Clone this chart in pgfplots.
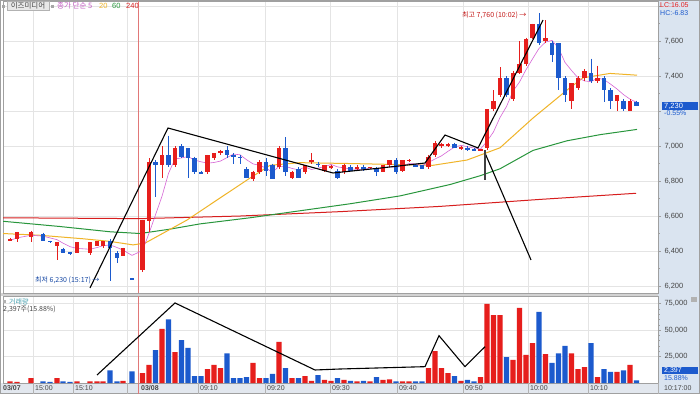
\documentclass[border=0pt]{standalone}
\usepackage{pgfplots}
\pgfplotsset{compat=1.18}
\usepackage{pgfplotstable}
\usepackage{fontspec}
\setmainfont{Liberation Sans}
\newfontfamily\kr{Noto Sans CJK KR}
\definecolor{cred}{RGB}{230,30,28}
\definecolor{cblue}{RGB}{28,90,205}
\definecolor{ma5}{RGB}{214,100,214}
\definecolor{ma20}{RGB}{240,180,40}
\definecolor{ma60}{RGB}{40,150,60}
\definecolor{ma240}{RGB}{215,30,30}
\definecolor{gridc}{RGB}{228,228,228}
\definecolor{panel}{RGB}{218,228,240}
\definecolor{timebar}{RGB}{226,231,238}
\definecolor{sepred}{RGB}{225,120,120}
\definecolor{txtgray}{RGB}{70,70,70}
\definecolor{framec}{RGB}{160,160,160}
\definecolor{volcyan}{RGB}{70,160,175}

\pgfplotstableread{
x o h l c v
10 6460 6475 6455 6470 1500
17 6470 6510 6450 6510 1000
31 6480 6515 6450 6510 4700
57 6430 6450 6350 6450 4700
77 6390 6450 6390 6450 1500
90 6390 6450 6380 6450 1500
97 6430 6460 6430 6460 1500
103 6430 6460 6420 6460 1500
123 6370 6420 6370 6420 2000
142.5 6290 6580 6280 6580 9400
149 6570 6930 6510 6910 17000
162 6890 7000 6820 6950 51000
175 6890 7000 6880 6990 29000
207.5 6850 6950 6840 6950 13000
214 6930 6960 6920 6960 17000
220.5 6960 6980 6950 6970 14000
253 6810 6860 6800 6850 19000
259.5 6850 6920 6840 6910 4700
279 6880 7000 6870 6990 38700
292 6820 6860 6810 6850 4700
305 6850 6890 6840 6890 6600
311.5 6910 6960 6900 6920 2000
324.5 6860 6890 6850 6890 3000
331 6875 6890 6870 6885 2000
344 6850 6900 6840 6890 3000
357 6870 6890 6860 6880 1500
370 6875 6880 6870 6882 1500
383 6850 6890 6850 6890 3000
389.5 6890 6920 6880 6920 3500
402.5 6860 6920 6850 6920 1500
409 6915 6925 6910 6922 1500
428.5 6880 6950 6870 6940 14000
435 6950 7030 6940 7020 30000
441.5 7000 7020 6990 7010 14000
448 7000 7020 6995 7010 9400
461 6985 7000 6980 6992 2000
480.5 6975 6985 6970 6982 5600
487 6990 7210 6980 7210 74500
493.5 7210 7320 7200 7260 64000
500 7290 7450 7280 7390 64000
513 7270 7430 7260 7420 21700
519.5 7420 7600 7410 7470 70700
526 7470 7620 7460 7610 26400
532.5 7620 7700 7610 7700 37700
545.5 7600 7720 7590 7620 27300
571.5 7260 7360 7210 7360 28000
578 7330 7400 7320 7390 13000
584.5 7390 7440 7370 7430 15000
597.5 7370 7460 7360 7390 5600
617 7260 7290 7200 7290 10400
630 7200 7270 7200 7260 17000
}\up

\pgfplotstableread{
x o h l c v
43 6500 6505 6460 6460 1500
50 6460 6460 6445 6450 1000
63 6410 6420 6390 6390 1500
70 6395 6395 6380 6385 1000
110 6460 6470 6230 6420 12000
117 6390 6400 6330 6360 1500
132 6245 6245 6235 6238 11000
155.5 6910 6920 6710 6890 31000
168.5 6950 7060 6880 6890 60000
181.5 7000 7010 6930 6940 40500
188 6990 6990 6820 6930 33000
194.5 6930 6940 6840 6850 6600
201 6850 6860 6840 6840 6600
227 6980 7000 6930 6950 28000
233.5 6950 6960 6900 6940 4700
240 6940 6950 6900 6930 4700
246.5 6870 6880 6820 6820 5600
266 6910 6930 6830 6860 4700
272.5 6890 6900 6810 6810 8500
285.5 6990 7050 6830 6850 14000
298.5 6870 6880 6820 6820 4700
318 6900 6910 6880 6890 7500
337.5 6860 6870 6810 6820 4700
350.5 6880 6890 6860 6860 2000
363.5 6880 6890 6860 6870 2000
376.5 6870 6880 6830 6850 5600
396 6920 6930 6840 6850 1500
415.5 6890 6900 6880 6880 1500
422 6890 6890 6870 6870 1500
454.5 7010 7020 6990 6990 6600
467.5 6990 7000 6970 6980 3000
474 6985 6990 6970 6975 1500
506.5 7390 7400 7280 7290 24500
539 7700 7760 7580 7590 67000
552 7590 7600 7480 7520 18900
558.5 7590 7590 7320 7390 28000
565 7390 7400 7250 7290 34900
591 7420 7500 7360 7370 37700
604 7390 7400 7250 7320 13000
610.5 7320 7330 7210 7260 10400
623.5 7260 7270 7200 7210 12000
636.5 7250 7260 7230 7230 2397
}\dn

\begin{document}
\begin{tikzpicture}
\fill[white] (0pt,0pt) rectangle (700pt,394pt);
\fill[panel] (658pt,0pt) rectangle (700pt,394pt);
\fill[timebar] (0pt,0pt) rectangle (658pt,11pt);
\fill[gray!35] (0pt,98pt) rectangle (658pt,101pt);

\begin{axis}[at={(3pt,101pt)}, anchor=south west, width=655pt, height=292pt, scale only axis,
  xmin=3, xmax=658, ymin=6160, ymax=7829,
  xtick={33,73,127,198,265,330,397,463,528,588}, xticklabels={}, xmajorgrids,
  ytick={6200,6400,...,7800},
  yticklabels={{6,200},{6,400},{6,600},{6,800},{7,000},{},{7,400},{7,600},{}},
  ymajorgrids, grid style={gridc, line width=0.6pt},
  ytick pos=right, yticklabel pos=right, tick align=outside,
  major tick length=3pt, minor y tick num=1, minor tick length=1.5pt,
  xtick style={draw=none}, ytick style={framec},
  axis line style={framec},
  yticklabel style={font=\fontsize{7.5}{8}\selectfont, text=txtgray, xshift=0pt},
  scaled y ticks=false]
\addplot[sepred, line width=0.6pt] coordinates {(138,6160)(138,7829)};
\addplot[ma240, line width=1pt] coordinates {(3,6590)(140,6585)(240,6600)(340,6625)(440,6655)(540,6695)(636,6730)};
\addplot[ma60, line width=1pt] coordinates {(3,6570)(60,6540)(110,6510)(140,6500)(170,6525)(200,6555)(250,6590)(300,6630)(350,6670)(400,6715)(450,6780)(480,6830)(500,6870)(533,6975)(567,7030)(600,7065)(637,7095)};
\addplot[ma20, line width=1pt] coordinates {(3,6500)(40,6490)(83,6470)(110,6455)(133,6435)(145,6445)(187,6577)(220,6703)(250,6817)(270,6890)(300,6905)(350,6900)(433,6890)(467,6920)(500,6990)(533,7160)(567,7320)(583,7390)(610,7415)(637,7405)};
\addplot[ma5, line width=0.6pt] coordinates {(10,6460)(17,6475)(31,6490)(43,6485)(50,6475)(57,6465)(63,6445)(70,6425)(77,6415)(90,6410)(97,6420)(103,6430)(110,6435)(117,6420)(123,6405)(132,6375)
(142.5,6403)(149,6501)(155.5,6607)(162,6713)(168.5,6844)(175,6926)(181.5,6932)(188,6940)(194.5,6920)(201,6910)(207.5,6902)(214,6906)(220.5,6914)(227,6934)(233.5,6954)(240,6950)(246.5,6922)(253,6898)(259.5,6890)(266,6874)(272.5,6850)(279,6884)(285.5,6884)(292,6872)(298.5,6864)(305,6880)(311.5,6866)(318,6874)(324.5,6882)(331,6895)(337.5,6881)(344,6875)(350.5,6869)(357,6867)(363.5,6864)(370,6876)(376.5,6868)(383,6874)(389.5,6882)(396,6878)(402.5,6886)(409,6900)(415.5,6898)(422,6888)(428.5,6906)(435,6926)(441.5,6944)(448,6970)(454.5,6994)(461,7004)(467.5,6996)(474,6989)(480.5,6983)(487,7027)(493.5,7081)(500,7163)(506.5,7226)(513,7314)(519.5,7366)(526,7436)(532.5,7498)(539,7558)(545.5,7594)(552,7604)(558.5,7560)(565,7478)(571.5,7432)(578,7390)(584.5,7372)(591,7368)(597.5,7388)(604,7380)(610.5,7354)(617,7326)(623.5,7294)(630,7268)(636.5,7250)};
% wicks
\addplot[draw=none, mark=none, forget plot, error bars/.cd, y dir=minus, y explicit, error mark=none, error bar style={draw=cred, line width=1pt}]
  table[x=x, y=h, y error expr={\thisrow{h}-\thisrow{l}}] {\up};
\addplot[draw=none, mark=none, forget plot, error bars/.cd, y dir=minus, y explicit, error mark=none, error bar style={draw=cblue, line width=1pt}]
  table[x=x, y=h, y error expr={\thisrow{h}-\thisrow{l}}] {\dn};
% bodies
\addplot[draw=none, mark=none, forget plot, error bars/.cd, y dir=both, y explicit, error mark=none, error bar style={draw=cred, line width=4.8pt}]
  table[x=x, y expr={0.5*(\thisrow{o}+\thisrow{c})}, y error expr={0.5*abs(\thisrow{c}-\thisrow{o})}] {\up};
\addplot[draw=none, mark=none, forget plot, error bars/.cd, y dir=both, y explicit, error mark=none, error bar style={draw=cblue, line width=4.8pt}]
  table[x=x, y expr={0.5*(\thisrow{o}+\thisrow{c})}, y error expr={0.5*abs(\thisrow{c}-\thisrow{o})}] {\dn};
% hand-drawn annotations
\addplot[black, line width=1.1pt] coordinates {(90,6189)(168,7103)(333,6846)(380,6874)(425,6903)(445,7063)(478,6989)(543,7720)};
\addplot[black, line width=1.1pt] coordinates {(485,6960)(531,6349)};
\addplot[black!75, line width=1.1pt] coordinates {(485,6977)(485,6806)};
\end{axis}

\begin{axis}[at={(3pt,11pt)}, anchor=south west, width=655pt, height=87pt, scale only axis,
  xmin=3, xmax=658, ymin=0, ymax=82000,
  xtick={33,73,127,198,265,330,397,463,528,588}, xticklabels={}, xmajorgrids,
  ytick={25000,50000,75000}, yticklabels={{25,000},{50,000},{75,000}},
  ymajorgrids, grid style={gridc, line width=0.6pt},
  ytick pos=right, yticklabel pos=right, tick align=outside,
  major tick length=3pt, minor y tick num=4, minor tick length=1.5pt,
  xtick style={draw=none}, ytick style={framec},
  axis line style={framec},
  yticklabel style={font=\fontsize{7.5}{8}\selectfont, text=txtgray, xshift=0pt},
  scaled y ticks=false]
\addplot[sepred, line width=0.6pt] coordinates {(138,0)(138,82000)};
\addplot[ybar, bar width=5.3pt, bar shift=0pt, fill=cred, draw=none] table[x=x, y=v] {\up};
\addplot[ybar, bar width=5.3pt, bar shift=0pt, fill=cblue, draw=none] table[x=x, y=v] {\dn};
\addplot[black, line width=1.1pt] coordinates {(97,7544)(175,75440)(315,12260)(340,13200)(425,15400)(439,44600)(465,15400)(485,34200)};
\end{axis}

% frame
\draw[framec, line width=0.8pt] (0.4pt,0.4pt) rectangle (699.6pt,393.6pt);
% time bar separators and labels
\foreach \t in {33,73,127,198,265,330,397,463,528,588,658}{\draw[gray!60] (\t pt,0pt) -- (\t pt,11pt);}
\draw[sepred] (138pt,0pt) -- (138pt,11pt);
\begin{scope}[every node/.style={anchor=west, inner sep=0pt, text=txtgray, font=\fontsize{7}{8}\selectfont}]
\node at (3pt,5.5pt) {\textbf{03/07}};
\node at (35pt,5.5pt) {15:00};
\node at (75pt,5.5pt) {15:10};
\node at (141pt,5.5pt) {\textbf{03/08}};
\node at (200pt,5.5pt) {09:10};
\node at (267pt,5.5pt) {09:20};
\node at (332pt,5.5pt) {09:30};
\node at (399pt,5.5pt) {09:40};
\node at (465pt,5.5pt) {09:50};
\node at (530pt,5.5pt) {10:00};
\node at (590pt,5.5pt) {10:10};
\node at (664pt,5.5pt) {10:17:00};
\end{scope}
% legend top-left
\fill[gray!70] (2pt,385.5pt) rectangle (5pt,388.5pt);
\draw[gray!60, fill=gray!18] (7pt,383.5pt) rectangle (49pt,392.5pt);
\node[anchor=center, inner sep=0pt, text=txtgray, font=\kr\fontsize{7.5}{8}\selectfont] at (28pt,388pt) {이즈미디어};
\fill[gray!70] (51pt,385.5pt) rectangle (54pt,388.5pt);
\node[anchor=west, inner sep=0pt, text=ma5!90!black, font=\kr\fontsize{7.5}{8}\selectfont] at (57pt,388pt) {종가 단순 5};
\node[anchor=west, inner sep=0pt, text=ma20, font=\fontsize{7.5}{8}\selectfont] at (99pt,388pt) {20};
\node[anchor=west, inner sep=0pt, text=ma60, font=\fontsize{7.5}{8}\selectfont] at (112pt,388pt) {60};
\node[anchor=west, inner sep=0pt, text=ma240, font=\fontsize{7.5}{8}\selectfont] at (126pt,388pt) {240};
% top right
\node[anchor=west, inner sep=0pt, text=cred, font=\fontsize{7}{8}\selectfont] at (660pt,389pt) {LC:16.05};
\node[anchor=west, inner sep=0pt, text=cblue, font=\fontsize{7}{8}\selectfont] at (660pt,381pt) {HC:-6.83};
% current price box
\fill[cblue] (662pt,284pt) rectangle (698pt,292pt);
\node[anchor=west, inner sep=0pt, text=white, font=\fontsize{7.5}{8}\selectfont] at (664pt,288pt) {7,230};
\node[anchor=west, inner sep=0pt, text=cblue, font=\fontsize{7}{8}\selectfont] at (664pt,280.5pt) {-0.55\%};
% volume box
\fill[cblue] (662pt,20pt) rectangle (698pt,27pt);
\node[anchor=west, inner sep=0pt, text=white, font=\fontsize{7}{8}\selectfont] at (664pt,23.5pt) {2,397};
\node[anchor=west, inner sep=0pt, text=cblue, font=\fontsize{7}{8}\selectfont] at (664pt,16pt) {15.88\%};
\fill[gray!60] (691pt,92pt) rectangle (697pt,97pt);
% annotations
\node[anchor=west, inner sep=0pt, text=cred!85!black, font=\kr\fontsize{7}{8}\selectfont] at (462pt,379pt) {최고 7,760 (10:02) →};
\node[anchor=west, inner sep=0pt, text=cblue!80!black, font=\kr\fontsize{7}{8}\selectfont] at (35pt,114pt) {최저 6,230 (15:17) →};
% volume legend
\fill[gray!60] (3pt,91pt) rectangle (6pt,94pt);
\node[anchor=west, inner sep=0pt, text=volcyan, font=\kr\fontsize{7}{8}\selectfont] at (9pt,92.5pt) {거래량};
\node[anchor=west, inner sep=0pt, text=txtgray, font=\kr\fontsize{7}{8}\selectfont] at (3pt,85pt) {2,397주(15.88\%)};
\pgfresetboundingbox
\path[use as bounding box] (0pt,0pt) rectangle (700pt,394pt);
\end{tikzpicture}
\end{document}
